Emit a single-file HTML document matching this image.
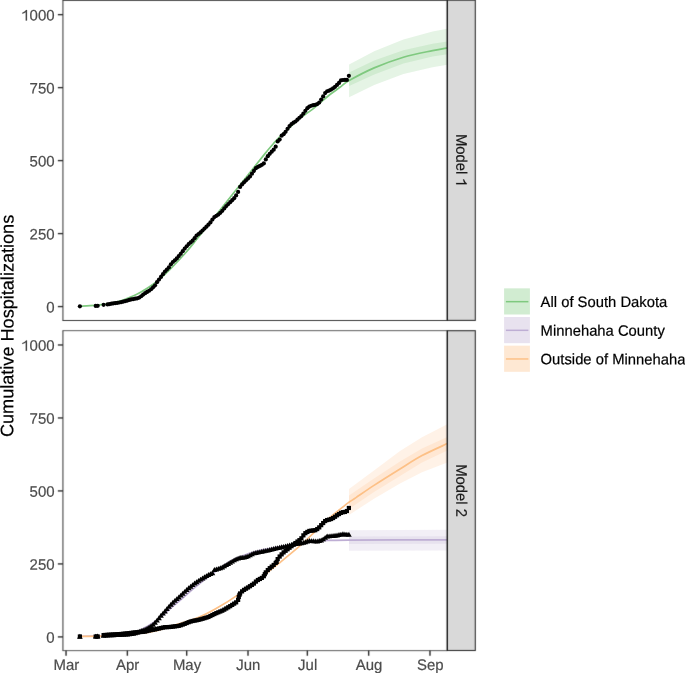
<!DOCTYPE html>
<html><head><meta charset="utf-8"><style>
html,body{margin:0;padding:0;background:#fff;}
body{width:685px;height:673px;overflow:hidden;}
svg{display:block;font-family:"Liberation Sans",sans-serif;will-change:transform;text-rendering:geometricPrecision;}
text{stroke:currentColor;stroke-width:0.2px;}
</style></head><body>
<svg width="685" height="673" viewBox="0 0 685 673">
<defs><filter id="bl" x="0" y="0" width="685" height="673" filterUnits="userSpaceOnUse" color-interpolation-filters="sRGB"><feConvolveMatrix order="3" kernelMatrix="0.00741 0.07126 0.00741 0.07126 0.68530 0.07126 0.00741 0.07126 0.00741" divisor="1" edgeMode="duplicate"/></filter><clipPath id="c1"><rect x="63.00" y="0.20" width="384.30" height="320.20"/></clipPath>
<clipPath id="c2"><rect x="63.00" y="330.70" width="384.30" height="319.80"/></clipPath></defs>
<rect width="685" height="673" fill="#fff"/>
<g clip-path="url(#c1)">
<path d="M349.10,64.40 L374.20,51.30 L403.40,39.60 L432.60,31.60 L447.30,28.80 L447.30,64.80 L432.60,67.30 L403.40,73.90 L374.20,84.90 L349.10,97.30 Z" fill="#7FC97F" fill-opacity="0.20"/><path d="M349.10,72.50 L374.20,60.50 L403.40,50.30 L432.60,43.80 L447.30,41.60 L447.30,54.30 L432.60,56.40 L403.40,63.50 L374.20,74.60 L349.10,86.00 Z" fill="#7FC97F" fill-opacity="0.20"/>
<path d="M80.00,306.30 C81.67,306.20 86.67,305.95 90.00,305.70 C93.33,305.45 96.67,305.17 100.00,304.80 C103.33,304.43 106.67,304.13 110.00,303.50 C113.33,302.87 116.67,302.05 120.00,301.00 C123.33,299.95 126.33,298.80 130.00,297.20 C133.67,295.60 137.83,293.77 142.00,291.40 C146.17,289.03 150.33,286.68 155.00,283.00 C159.67,279.32 165.00,274.22 170.00,269.30 C175.00,264.38 180.50,258.55 185.00,253.50 C189.50,248.45 189.50,248.33 197.00,239.00 C204.50,229.67 218.67,211.73 230.00,197.50 C241.33,183.27 257.50,162.87 265.00,153.60 C272.50,144.33 272.17,145.07 275.00,141.90 C277.83,138.73 279.50,137.03 282.00,134.60 C284.50,132.17 287.00,130.02 290.00,127.30 C293.00,124.58 296.27,121.30 300.00,118.30 C303.73,115.30 309.07,111.88 312.40,109.30 C315.73,106.72 317.07,105.27 320.00,102.80 C322.93,100.33 326.67,97.08 330.00,94.50 C333.33,91.92 336.82,89.62 340.00,87.30 C343.18,84.98 343.40,83.83 349.10,80.60 C354.80,77.37 365.15,71.80 374.20,67.90 C383.25,64.00 393.67,60.08 403.40,57.20 C413.13,54.32 425.28,52.15 432.60,50.60 C439.92,49.05 444.85,48.35 447.30,47.90" fill="none" stroke="#7FC97F" stroke-width="1.7"/>
<g fill="#000"><circle cx="79.89" cy="306.30" r="2.10"/><circle cx="95.71" cy="305.90" r="2.10"/><circle cx="97.69" cy="305.81" r="2.10"/><circle cx="103.62" cy="304.83" r="2.10"/><circle cx="107.58" cy="304.40" r="2.10"/><circle cx="109.55" cy="304.04" r="2.10"/><circle cx="111.53" cy="303.68" r="2.10"/><circle cx="113.51" cy="303.37" r="2.10"/><circle cx="115.49" cy="303.08" r="2.10"/><circle cx="117.47" cy="302.78" r="2.10"/><circle cx="119.44" cy="302.48" r="2.10"/><circle cx="121.42" cy="302.06" r="2.10"/><circle cx="123.40" cy="301.58" r="2.10"/><circle cx="125.38" cy="301.09" r="2.10"/><circle cx="127.36" cy="300.53" r="2.10"/><circle cx="129.33" cy="299.96" r="2.10"/><circle cx="131.31" cy="299.45" r="2.10"/><circle cx="133.29" cy="299.05" r="2.10"/><circle cx="135.27" cy="298.69" r="2.10"/><circle cx="137.25" cy="298.36" r="2.10"/><circle cx="139.22" cy="297.62" r="2.10"/><circle cx="141.20" cy="296.25" r="2.10"/><circle cx="143.18" cy="294.53" r="2.10"/><circle cx="145.16" cy="293.14" r="2.10"/><circle cx="147.14" cy="291.95" r="2.10"/><circle cx="149.11" cy="290.76" r="2.10"/><circle cx="151.09" cy="289.23" r="2.10"/><circle cx="153.07" cy="287.29" r="2.10"/><circle cx="155.05" cy="285.35" r="2.10"/><circle cx="157.02" cy="282.20" r="2.10"/><circle cx="159.00" cy="279.53" r="2.10"/><circle cx="160.98" cy="276.93" r="2.10"/><circle cx="162.96" cy="274.20" r="2.10"/><circle cx="164.94" cy="271.56" r="2.10"/><circle cx="166.91" cy="269.59" r="2.10"/><circle cx="168.89" cy="267.39" r="2.10"/><circle cx="170.87" cy="264.30" r="2.10"/><circle cx="172.85" cy="262.01" r="2.10"/><circle cx="174.83" cy="260.30" r="2.10"/><circle cx="176.80" cy="258.38" r="2.10"/><circle cx="178.78" cy="256.09" r="2.10"/><circle cx="180.76" cy="253.76" r="2.10"/><circle cx="182.74" cy="251.16" r="2.10"/><circle cx="184.72" cy="248.61" r="2.10"/><circle cx="186.69" cy="246.27" r="2.10"/><circle cx="188.67" cy="244.11" r="2.10"/><circle cx="190.65" cy="242.40" r="2.10"/><circle cx="192.63" cy="240.69" r="2.10"/><circle cx="194.61" cy="238.21" r="2.10"/><circle cx="196.58" cy="235.57" r="2.10"/><circle cx="198.56" cy="233.98" r="2.10"/><circle cx="200.54" cy="232.39" r="2.10"/><circle cx="202.52" cy="230.52" r="2.10"/><circle cx="204.50" cy="228.58" r="2.10"/><circle cx="206.47" cy="226.63" r="2.10"/><circle cx="208.45" cy="224.65" r="2.10"/><circle cx="210.43" cy="222.44" r="2.10"/><circle cx="212.41" cy="219.59" r="2.10"/><circle cx="214.38" cy="217.06" r="2.10"/><circle cx="216.36" cy="215.82" r="2.10"/><circle cx="218.34" cy="214.59" r="2.10"/><circle cx="220.32" cy="212.78" r="2.10"/><circle cx="222.30" cy="210.80" r="2.10"/><circle cx="224.27" cy="208.44" r="2.10"/><circle cx="226.25" cy="206.05" r="2.10"/><circle cx="228.23" cy="204.11" r="2.10"/><circle cx="230.21" cy="202.18" r="2.10"/><circle cx="232.19" cy="200.18" r="2.10"/><circle cx="234.16" cy="198.16" r="2.10"/><circle cx="236.14" cy="195.39" r="2.10"/><circle cx="238.12" cy="191.94" r="2.10"/><circle cx="240.10" cy="186.97" r="2.10"/><circle cx="242.08" cy="184.46" r="2.10"/><circle cx="244.05" cy="182.35" r="2.10"/><circle cx="246.03" cy="180.37" r="2.10"/><circle cx="248.01" cy="178.39" r="2.10"/><circle cx="249.99" cy="176.41" r="2.10"/><circle cx="251.97" cy="173.64" r="2.10"/><circle cx="253.94" cy="170.87" r="2.10"/><circle cx="255.92" cy="168.21" r="2.10"/><circle cx="257.90" cy="166.92" r="2.10"/><circle cx="259.88" cy="165.96" r="2.10"/><circle cx="261.86" cy="164.82" r="2.10"/><circle cx="263.83" cy="163.43" r="2.10"/><circle cx="265.81" cy="159.42" r="2.10"/><circle cx="267.79" cy="156.20" r="2.10"/><circle cx="269.77" cy="153.87" r="2.10"/><circle cx="271.74" cy="151.66" r="2.10"/><circle cx="273.72" cy="149.68" r="2.10"/><circle cx="275.70" cy="146.67" r="2.10"/><circle cx="277.68" cy="141.43" r="2.10"/><circle cx="279.66" cy="139.54" r="2.10"/><circle cx="281.63" cy="135.63" r="2.10"/><circle cx="283.61" cy="134.18" r="2.10"/><circle cx="285.59" cy="131.82" r="2.10"/><circle cx="287.57" cy="128.81" r="2.10"/><circle cx="289.55" cy="126.07" r="2.10"/><circle cx="291.52" cy="124.08" r="2.10"/><circle cx="293.50" cy="122.64" r="2.10"/><circle cx="295.48" cy="121.49" r="2.10"/><circle cx="297.46" cy="119.64" r="2.10"/><circle cx="299.44" cy="117.75" r="2.10"/><circle cx="301.41" cy="116.09" r="2.10"/><circle cx="303.39" cy="113.62" r="2.10"/><circle cx="305.37" cy="110.83" r="2.10"/><circle cx="307.35" cy="108.18" r="2.10"/><circle cx="309.33" cy="106.58" r="2.10"/><circle cx="311.30" cy="105.73" r="2.10"/><circle cx="313.28" cy="105.15" r="2.10"/><circle cx="315.26" cy="104.82" r="2.10"/><circle cx="317.24" cy="104.11" r="2.10"/><circle cx="319.22" cy="102.58" r="2.10"/><circle cx="321.19" cy="99.56" r="2.10"/><circle cx="323.17" cy="96.45" r="2.10"/><circle cx="325.15" cy="93.10" r="2.10"/><circle cx="327.13" cy="91.24" r="2.10"/><circle cx="329.10" cy="90.60" r="2.10"/><circle cx="331.08" cy="89.58" r="2.10"/><circle cx="333.06" cy="88.35" r="2.10"/><circle cx="335.04" cy="86.86" r="2.10"/><circle cx="337.02" cy="84.88" r="2.10"/><circle cx="338.99" cy="82.91" r="2.10"/><circle cx="340.97" cy="80.46" r="2.10"/><circle cx="342.95" cy="80.00" r="2.10"/><circle cx="344.93" cy="79.90" r="2.10"/><circle cx="346.91" cy="79.89" r="2.10"/><circle cx="348.88" cy="75.83" r="2.10"/></g>
</g>
<g clip-path="url(#c2)">
<path d="M349.00,530.20 L447.30,529.80 L447.30,550.60 L349.00,550.80 Z" fill="#BEAED4" fill-opacity="0.20"/><path d="M349.00,536.40 L447.30,536.30 L447.30,543.80 L349.00,544.00 Z" fill="#BEAED4" fill-opacity="0.20"/>
<path d="M349.00,489.00 L374.00,470.50 L400.00,451.00 L422.00,437.20 L447.30,424.30 L447.30,462.50 L422.00,472.30 L400.00,483.50 L374.00,498.70 L349.00,515.00 Z" fill="#FDC086" fill-opacity="0.20"/><path d="M349.00,495.50 L374.00,478.50 L400.00,461.50 L422.00,448.50 L447.30,437.00 L447.30,450.50 L422.00,462.50 L400.00,476.00 L374.00,492.00 L349.00,509.00 Z" fill="#FDC086" fill-opacity="0.20"/>
<path d="M80.00,636.30 C83.33,636.23 93.33,636.23 100.00,635.90 C106.67,635.57 114.17,634.98 120.00,634.30 C125.83,633.62 131.67,632.47 135.00,631.80 C138.33,631.13 138.33,631.00 140.00,630.30 C141.67,629.60 143.33,628.55 145.00,627.60 C146.67,626.65 148.33,625.63 150.00,624.60 C151.67,623.57 153.33,622.57 155.00,621.40 C156.67,620.23 158.33,618.90 160.00,617.60 C161.67,616.30 163.00,615.37 165.00,613.60 C167.00,611.83 169.20,609.45 172.00,607.00 C174.80,604.55 178.52,601.72 181.80,598.90 C185.08,596.08 188.30,592.98 191.70,590.10 C195.10,587.22 198.32,584.65 202.20,581.60 C206.08,578.55 210.25,575.23 215.00,571.80 C219.75,568.37 225.12,564.03 230.70,561.00 C236.28,557.97 243.62,555.38 248.50,553.60 C253.38,551.82 255.58,551.32 260.00,550.30 C264.42,549.28 270.00,548.38 275.00,547.50 C280.00,546.62 284.17,545.88 290.00,545.00 C295.83,544.12 304.17,542.93 310.00,542.20 C315.83,541.47 318.50,540.95 325.00,540.60 C331.50,540.25 328.62,540.22 349.00,540.10 C369.38,539.98 430.92,539.93 447.30,539.90" fill="none" stroke="#BEAED4" stroke-width="1.7"/>
<path d="M80.00,636.30 C83.33,636.27 93.33,636.25 100.00,636.10 C106.67,635.95 113.00,635.92 120.00,635.40 C127.00,634.88 136.17,633.73 142.00,633.00 C147.83,632.27 149.50,632.33 155.00,631.00 C160.50,629.67 167.80,627.25 175.00,625.00 C182.20,622.75 191.42,620.20 198.20,617.50 C204.98,614.80 209.13,612.53 215.70,608.80 C222.27,605.07 229.80,600.50 237.60,595.10 C245.40,589.70 255.68,581.63 262.50,576.40 C269.32,571.17 272.42,568.65 278.50,563.70 C284.58,558.75 292.92,552.05 299.00,546.70 C305.08,541.35 309.63,536.63 315.00,531.60 C320.37,526.57 326.27,520.83 331.20,516.50 C336.13,512.17 341.63,507.97 344.60,505.60 C347.57,503.23 347.10,503.63 349.00,502.30 C350.90,500.97 351.83,500.42 356.00,497.60 C360.17,494.78 366.67,490.17 374.00,485.40 C381.33,480.63 392.00,473.97 400.00,469.00 C408.00,464.03 414.12,459.83 422.00,455.60 C429.88,451.37 443.08,445.60 447.30,443.60" fill="none" stroke="#FDC086" stroke-width="1.7"/>
<g fill="#000"><path d="M79.89,633.75L82.74,638.65L77.04,638.65Z"/><path d="M95.71,633.65L98.56,638.55L92.86,638.55Z"/><path d="M97.69,633.56L100.54,638.46L94.84,638.46Z"/><path d="M103.62,632.75L106.47,637.65L100.77,637.65Z"/><path d="M105.60,632.66L108.45,637.56L102.75,637.56Z"/><path d="M107.58,632.56L110.43,637.46L104.73,637.46Z"/><path d="M109.55,632.47L112.40,637.37L106.70,637.37Z"/><path d="M111.53,632.37L114.38,637.27L108.68,637.27Z"/><path d="M113.51,632.27L116.36,637.17L110.66,637.17Z"/><path d="M115.49,632.18L118.34,637.08L112.64,637.08Z"/><path d="M117.47,632.08L120.32,636.98L114.62,636.98Z"/><path d="M119.44,631.98L122.29,636.88L116.59,636.88Z"/><path d="M121.42,631.86L124.27,636.76L118.57,636.76Z"/><path d="M123.40,631.74L126.25,636.64L120.55,636.64Z"/><path d="M125.38,631.61L128.23,636.51L122.53,636.51Z"/><path d="M127.36,631.49L130.21,636.39L124.51,636.39Z"/><path d="M129.33,631.28L132.18,636.18L126.48,636.18Z"/><path d="M131.31,631.02L134.16,635.92L128.46,635.92Z"/><path d="M133.29,630.77L136.14,635.67L130.44,635.67Z"/><path d="M135.27,630.44L138.12,635.34L132.42,635.34Z"/><path d="M137.25,629.61L140.10,634.51L134.40,634.51Z"/><path d="M139.22,628.78L142.07,633.68L136.37,633.68Z"/><path d="M141.20,628.07L144.05,632.97L138.35,632.97Z"/><path d="M143.18,627.43L146.03,632.33L140.33,632.33Z"/><path d="M145.16,626.76L148.01,631.66L142.31,631.66Z"/><path d="M147.14,625.65L149.99,630.55L144.29,630.55Z"/><path d="M149.11,624.55L151.96,629.45L146.26,629.45Z"/><path d="M151.09,623.25L153.94,628.15L148.24,628.15Z"/><path d="M153.07,621.79L155.92,626.69L150.22,626.69Z"/><path d="M155.05,619.78L157.90,624.68L152.20,624.68Z"/><path d="M157.02,617.65L159.87,622.55L154.17,622.55Z"/><path d="M159.00,615.25L161.85,620.15L156.15,620.15Z"/><path d="M160.98,612.77L163.83,617.67L158.13,617.67Z"/><path d="M162.96,610.64L165.81,615.54L160.11,615.54Z"/><path d="M164.94,608.51L167.79,613.41L162.09,613.41Z"/><path d="M166.91,606.21L169.76,611.11L164.06,611.11Z"/><path d="M168.89,603.93L171.74,608.83L166.04,608.83Z"/><path d="M170.87,601.80L173.72,606.70L168.02,606.70Z"/><path d="M172.85,599.75L175.70,604.65L170.00,604.65Z"/><path d="M174.83,597.93L177.68,602.83L171.98,602.83Z"/><path d="M176.80,596.18L179.65,601.08L173.95,601.08Z"/><path d="M178.78,594.52L181.63,599.42L175.93,599.42Z"/><path d="M180.76,592.72L183.61,597.62L177.91,597.62Z"/><path d="M182.74,590.79L185.59,595.69L179.89,595.69Z"/><path d="M184.72,588.90L187.57,593.80L181.87,593.80Z"/><path d="M186.69,587.03L189.54,591.93L183.84,591.93Z"/><path d="M188.67,585.35L191.52,590.25L185.82,590.25Z"/><path d="M190.65,583.74L193.50,588.64L187.80,588.64Z"/><path d="M192.63,582.15L195.48,587.05L189.78,587.05Z"/><path d="M194.61,580.57L197.46,585.47L191.76,585.47Z"/><path d="M196.58,579.23L199.43,584.13L193.73,584.13Z"/><path d="M198.56,577.95L201.41,582.85L195.71,582.85Z"/><path d="M200.54,576.71L203.39,581.61L197.69,581.61Z"/><path d="M202.52,575.50L205.37,580.40L199.67,580.40Z"/><path d="M204.50,574.31L207.35,579.21L201.65,579.21Z"/><path d="M206.47,573.16L209.32,578.06L203.62,578.06Z"/><path d="M208.45,572.03L211.30,576.93L205.60,576.93Z"/><path d="M210.43,571.14L213.28,576.04L207.58,576.04Z"/><path d="M212.41,570.24L215.26,575.14L209.56,575.14Z"/><path d="M214.38,567.10L217.23,572.00L211.53,572.00Z"/><path d="M216.36,566.52L219.21,571.42L213.51,571.42Z"/><path d="M218.34,565.92L221.19,570.82L215.49,570.82Z"/><path d="M220.32,565.29L223.17,570.19L217.47,570.19Z"/><path d="M222.30,564.51L225.15,569.41L219.45,569.41Z"/><path d="M224.27,563.36L227.12,568.26L221.42,568.26Z"/><path d="M226.25,562.22L229.10,567.12L223.40,567.12Z"/><path d="M228.23,561.03L231.08,565.93L225.38,565.93Z"/><path d="M230.21,559.85L233.06,564.75L227.36,564.75Z"/><path d="M232.19,558.64L235.04,563.54L229.34,563.54Z"/><path d="M234.16,557.42L237.01,562.32L231.31,562.32Z"/><path d="M236.14,556.43L238.99,561.33L233.29,561.33Z"/><path d="M238.12,555.64L240.97,560.54L235.27,560.54Z"/><path d="M240.10,555.00L242.95,559.90L237.25,559.90Z"/><path d="M242.08,554.82L244.93,559.72L239.23,559.72Z"/><path d="M244.05,554.63L246.90,559.53L241.20,559.53Z"/><path d="M246.03,554.02L248.88,558.92L243.18,558.92Z"/><path d="M248.01,553.40L250.86,558.30L245.16,558.30Z"/><path d="M249.99,552.39L252.84,557.29L247.14,557.29Z"/><path d="M251.97,551.25L254.82,556.15L249.12,556.15Z"/><path d="M253.94,550.44L256.79,555.34L251.09,555.34Z"/><path d="M255.92,550.01L258.77,554.91L253.07,554.91Z"/><path d="M257.90,549.57L260.75,554.47L255.05,554.47Z"/><path d="M259.88,549.15L262.73,554.05L257.03,554.05Z"/><path d="M261.86,548.75L264.71,553.65L259.01,553.65Z"/><path d="M263.83,548.35L266.68,553.25L260.98,553.25Z"/><path d="M265.81,547.95L268.66,552.85L262.96,552.85Z"/><path d="M267.79,547.55L270.64,552.45L264.94,552.45Z"/><path d="M269.77,547.06L272.62,551.96L266.92,551.96Z"/><path d="M271.74,546.57L274.59,551.47L268.89,551.47Z"/><path d="M273.72,546.09L276.57,550.99L270.87,550.99Z"/><path d="M275.70,545.60L278.55,550.50L272.85,550.50Z"/><path d="M277.68,545.15L280.53,550.05L274.83,550.05Z"/><path d="M279.66,544.76L282.51,549.66L276.81,549.66Z"/><path d="M281.63,544.36L284.48,549.26L278.78,549.26Z"/><path d="M283.61,543.97L286.46,548.87L280.76,548.87Z"/><path d="M285.59,543.57L288.44,548.47L282.74,548.47Z"/><path d="M287.57,543.09L290.42,547.99L284.72,547.99Z"/><path d="M289.55,542.60L292.40,547.50L286.70,547.50Z"/><path d="M291.52,542.11L294.37,547.01L288.67,547.01Z"/><path d="M293.50,541.62L296.35,546.52L290.65,546.52Z"/><path d="M295.48,541.21L298.33,546.11L292.63,546.11Z"/><path d="M297.46,540.90L300.31,545.80L294.61,545.80Z"/><path d="M299.44,540.59L302.29,545.49L296.59,545.49Z"/><path d="M301.41,540.28L304.26,545.18L298.56,545.18Z"/><path d="M303.39,539.97L306.24,544.87L300.54,544.87Z"/><path d="M305.37,539.29L308.22,544.19L302.52,544.19Z"/><path d="M307.35,538.60L310.20,543.50L304.50,543.50Z"/><path d="M309.33,538.07L312.18,542.97L306.48,542.97Z"/><path d="M311.30,538.19L314.15,543.09L308.45,543.09Z"/><path d="M313.28,538.30L316.13,543.20L310.43,543.20Z"/><path d="M315.26,538.41L318.11,543.31L312.41,543.31Z"/><path d="M317.24,538.52L320.09,543.42L314.39,543.42Z"/><path d="M319.22,538.11L322.07,543.01L316.37,543.01Z"/><path d="M321.19,537.49L324.04,542.39L318.34,542.39Z"/><path d="M323.17,536.46L326.02,541.36L320.32,541.36Z"/><path d="M325.15,534.88L328.00,539.78L322.30,539.78Z"/><path d="M327.13,533.61L329.98,538.51L324.28,538.51Z"/><path d="M329.10,533.41L331.95,538.31L326.25,538.31Z"/><path d="M331.08,533.21L333.93,538.11L328.23,538.11Z"/><path d="M333.06,533.01L335.91,537.91L330.21,537.91Z"/><path d="M335.04,532.82L337.89,537.72L332.19,537.72Z"/><path d="M337.02,532.49L339.87,537.39L334.17,537.39Z"/><path d="M338.99,532.10L341.84,537.00L336.14,537.00Z"/><path d="M340.97,531.71L343.82,536.61L338.12,536.61Z"/><path d="M342.95,531.36L345.80,536.26L340.10,536.26Z"/><path d="M344.93,531.51L347.78,536.41L342.08,536.41Z"/><path d="M346.91,531.66L349.76,536.56L344.06,536.56Z"/><path d="M348.88,531.80L351.73,536.70L346.03,536.70Z"/><rect x="77.79" y="634.40" width="4.20" height="4.20"/><rect x="93.61" y="634.40" width="4.20" height="4.20"/><rect x="95.59" y="634.40" width="4.20" height="4.20"/><rect x="101.52" y="632.98" width="4.20" height="4.20"/><rect x="103.50" y="632.86" width="4.20" height="4.20"/><rect x="105.48" y="632.74" width="4.20" height="4.20"/><rect x="107.45" y="632.63" width="4.20" height="4.20"/><rect x="109.43" y="632.51" width="4.20" height="4.20"/><rect x="111.41" y="632.39" width="4.20" height="4.20"/><rect x="113.39" y="632.27" width="4.20" height="4.20"/><rect x="115.37" y="632.15" width="4.20" height="4.20"/><rect x="117.34" y="632.03" width="4.20" height="4.20"/><rect x="119.32" y="631.86" width="4.20" height="4.20"/><rect x="121.30" y="631.66" width="4.20" height="4.20"/><rect x="123.28" y="631.46" width="4.20" height="4.20"/><rect x="125.26" y="631.26" width="4.20" height="4.20"/><rect x="127.23" y="631.03" width="4.20" height="4.20"/><rect x="129.21" y="630.77" width="4.20" height="4.20"/><rect x="131.19" y="630.52" width="4.20" height="4.20"/><rect x="133.17" y="630.28" width="4.20" height="4.20"/><rect x="135.15" y="630.17" width="4.20" height="4.20"/><rect x="137.12" y="630.05" width="4.20" height="4.20"/><rect x="139.10" y="629.88" width="4.20" height="4.20"/><rect x="141.08" y="629.68" width="4.20" height="4.20"/><rect x="143.06" y="629.46" width="4.20" height="4.20"/><rect x="145.04" y="628.94" width="4.20" height="4.20"/><rect x="147.01" y="628.43" width="4.20" height="4.20"/><rect x="148.99" y="628.00" width="4.20" height="4.20"/><rect x="150.97" y="627.65" width="4.20" height="4.20"/><rect x="152.95" y="627.29" width="4.20" height="4.20"/><rect x="154.92" y="626.84" width="4.20" height="4.20"/><rect x="156.90" y="626.38" width="4.20" height="4.20"/><rect x="158.88" y="625.93" width="4.20" height="4.20"/><rect x="160.86" y="625.48" width="4.20" height="4.20"/><rect x="162.84" y="625.09" width="4.20" height="4.20"/><rect x="164.81" y="625.01" width="4.20" height="4.20"/><rect x="166.79" y="624.94" width="4.20" height="4.20"/><rect x="168.77" y="624.79" width="4.20" height="4.20"/><rect x="170.75" y="624.53" width="4.20" height="4.20"/><rect x="172.73" y="624.27" width="4.20" height="4.20"/><rect x="174.70" y="624.01" width="4.20" height="4.20"/><rect x="176.68" y="623.75" width="4.20" height="4.20"/><rect x="178.66" y="623.15" width="4.20" height="4.20"/><rect x="180.64" y="622.46" width="4.20" height="4.20"/><rect x="182.62" y="621.75" width="4.20" height="4.20"/><rect x="184.59" y="620.93" width="4.20" height="4.20"/><rect x="186.57" y="620.11" width="4.20" height="4.20"/><rect x="188.55" y="619.41" width="4.20" height="4.20"/><rect x="190.53" y="618.90" width="4.20" height="4.20"/><rect x="192.51" y="618.48" width="4.20" height="4.20"/><rect x="194.48" y="618.18" width="4.20" height="4.20"/><rect x="196.46" y="617.73" width="4.20" height="4.20"/><rect x="198.44" y="617.24" width="4.20" height="4.20"/><rect x="200.42" y="616.67" width="4.20" height="4.20"/><rect x="202.40" y="616.08" width="4.20" height="4.20"/><rect x="204.37" y="615.48" width="4.20" height="4.20"/><rect x="206.35" y="614.87" width="4.20" height="4.20"/><rect x="208.33" y="613.90" width="4.20" height="4.20"/><rect x="210.31" y="612.92" width="4.20" height="4.20"/><rect x="212.28" y="611.95" width="4.20" height="4.20"/><rect x="214.26" y="611.03" width="4.20" height="4.20"/><rect x="216.24" y="610.21" width="4.20" height="4.20"/><rect x="218.22" y="609.40" width="4.20" height="4.20"/><rect x="220.20" y="608.59" width="4.20" height="4.20"/><rect x="222.17" y="607.55" width="4.20" height="4.20"/><rect x="224.15" y="606.38" width="4.20" height="4.20"/><rect x="226.13" y="605.22" width="4.20" height="4.20"/><rect x="228.11" y="604.05" width="4.20" height="4.20"/><rect x="230.09" y="602.80" width="4.20" height="4.20"/><rect x="232.06" y="601.54" width="4.20" height="4.20"/><rect x="234.04" y="600.25" width="4.20" height="4.20"/><rect x="236.02" y="597.80" width="4.20" height="4.20"/><rect x="236.68" y="594.80" width="4.20" height="4.20"/><rect x="237.34" y="592.76" width="4.20" height="4.20"/><rect x="238.00" y="591.36" width="4.20" height="4.20"/><rect x="239.98" y="589.28" width="4.20" height="4.20"/><rect x="241.95" y="587.77" width="4.20" height="4.20"/><rect x="243.93" y="586.58" width="4.20" height="4.20"/><rect x="245.91" y="585.39" width="4.20" height="4.20"/><rect x="247.89" y="584.12" width="4.20" height="4.20"/><rect x="249.87" y="582.81" width="4.20" height="4.20"/><rect x="251.84" y="581.46" width="4.20" height="4.20"/><rect x="253.82" y="579.48" width="4.20" height="4.20"/><rect x="255.80" y="577.92" width="4.20" height="4.20"/><rect x="257.78" y="576.87" width="4.20" height="4.20"/><rect x="259.76" y="575.82" width="4.20" height="4.20"/><rect x="261.73" y="574.11" width="4.20" height="4.20"/><rect x="262.72" y="572.09" width="4.20" height="4.20"/><rect x="263.71" y="570.26" width="4.20" height="4.20"/><rect x="265.69" y="567.96" width="4.20" height="4.20"/><rect x="267.67" y="566.07" width="4.20" height="4.20"/><rect x="269.64" y="564.53" width="4.20" height="4.20"/><rect x="271.62" y="562.86" width="4.20" height="4.20"/><rect x="273.60" y="560.83" width="4.20" height="4.20"/><rect x="274.59" y="559.81" width="4.20" height="4.20"/><rect x="275.58" y="557.00" width="4.20" height="4.20"/><rect x="277.56" y="554.43" width="4.20" height="4.20"/><rect x="279.53" y="552.27" width="4.20" height="4.20"/><rect x="281.51" y="550.29" width="4.20" height="4.20"/><rect x="283.49" y="548.70" width="4.20" height="4.20"/><rect x="285.47" y="547.17" width="4.20" height="4.20"/><rect x="287.45" y="545.63" width="4.20" height="4.20"/><rect x="289.42" y="544.09" width="4.20" height="4.20"/><rect x="291.40" y="542.52" width="4.20" height="4.20"/><rect x="293.38" y="540.94" width="4.20" height="4.20"/><rect x="295.36" y="539.45" width="4.20" height="4.20"/><rect x="297.34" y="538.06" width="4.20" height="4.20"/><rect x="299.31" y="536.19" width="4.20" height="4.20"/><rect x="301.29" y="533.25" width="4.20" height="4.20"/><rect x="303.27" y="531.07" width="4.20" height="4.20"/><rect x="305.25" y="529.85" width="4.20" height="4.20"/><rect x="307.23" y="528.85" width="4.20" height="4.20"/><rect x="309.20" y="528.60" width="4.20" height="4.20"/><rect x="311.18" y="528.34" width="4.20" height="4.20"/><rect x="313.16" y="528.09" width="4.20" height="4.20"/><rect x="315.14" y="526.96" width="4.20" height="4.20"/><rect x="317.12" y="525.28" width="4.20" height="4.20"/><rect x="319.09" y="523.05" width="4.20" height="4.20"/><rect x="321.07" y="520.93" width="4.20" height="4.20"/><rect x="323.05" y="518.95" width="4.20" height="4.20"/><rect x="325.03" y="517.95" width="4.20" height="4.20"/><rect x="327.00" y="517.54" width="4.20" height="4.20"/><rect x="328.98" y="516.91" width="4.20" height="4.20"/><rect x="330.96" y="515.92" width="4.20" height="4.20"/><rect x="332.94" y="514.65" width="4.20" height="4.20"/><rect x="334.92" y="513.18" width="4.20" height="4.20"/><rect x="336.89" y="511.94" width="4.20" height="4.20"/><rect x="338.87" y="510.76" width="4.20" height="4.20"/><rect x="340.85" y="510.08" width="4.20" height="4.20"/><rect x="342.83" y="509.86" width="4.20" height="4.20"/><rect x="344.81" y="508.92" width="4.20" height="4.20"/><rect x="346.78" y="505.88" width="4.20" height="4.20"/></g>
</g>
<g filter="url(#bl)"><rect x="447.30" y="0.20" width="28.00" height="320.20" fill="#D9D9D9" stroke="#333" stroke-width="1.1"/><rect x="447.30" y="330.70" width="28.00" height="319.80" fill="#D9D9D9" stroke="#333" stroke-width="1.1"/><line x1="62.50" x2="447.30" y1="0.45" y2="0.45" stroke="#333" stroke-width="0.90"/><line x1="62.50" x2="447.30" y1="320.50" y2="320.50" stroke="#333" stroke-width="0.95"/><line x1="62.95" x2="62.95" y1="0.45" y2="320.50" stroke="#333" stroke-width="1.00"/><line x1="447.35" x2="447.35" y1="0.45" y2="320.50" stroke="#1a1a1a" stroke-width="1.3"/><line x1="62.50" x2="447.30" y1="330.68" y2="330.68" stroke="#333" stroke-width="0.80"/><line x1="62.50" x2="447.30" y1="650.65" y2="650.65" stroke="#333" stroke-width="0.80"/><line x1="62.95" x2="62.95" y1="330.68" y2="650.65" stroke="#333" stroke-width="1.00"/><line x1="447.35" x2="447.35" y1="330.68" y2="650.65" stroke="#1a1a1a" stroke-width="1.3"/><line x1="57.85" x2="63.00" y1="14.65" y2="14.65" stroke="#333" stroke-width="1.4"/><line x1="57.85" x2="63.00" y1="87.63" y2="87.63" stroke="#333" stroke-width="1.4"/><line x1="57.85" x2="63.00" y1="160.60" y2="160.60" stroke="#333" stroke-width="1.4"/><line x1="57.85" x2="63.00" y1="233.60" y2="233.60" stroke="#333" stroke-width="1.4"/><line x1="57.85" x2="63.00" y1="306.58" y2="306.58" stroke="#333" stroke-width="1.4"/><line x1="57.85" x2="63.00" y1="344.97" y2="344.97" stroke="#333" stroke-width="1.4"/><line x1="57.85" x2="63.00" y1="417.95" y2="417.95" stroke="#333" stroke-width="1.4"/><line x1="57.85" x2="63.00" y1="490.92" y2="490.92" stroke="#333" stroke-width="1.4"/><line x1="57.85" x2="63.00" y1="563.92" y2="563.92" stroke="#333" stroke-width="1.4"/><line x1="57.85" x2="63.00" y1="636.90" y2="636.90" stroke="#333" stroke-width="1.4"/><line x1="66.04" x2="66.04" y1="650.50" y2="655.75" stroke="#333" stroke-width="1.45"/><line x1="127.36" x2="127.36" y1="650.50" y2="655.75" stroke="#333" stroke-width="1.45"/><line x1="186.69" x2="186.69" y1="650.50" y2="655.75" stroke="#333" stroke-width="1.45"/><line x1="248.01" x2="248.01" y1="650.50" y2="655.75" stroke="#333" stroke-width="1.45"/><line x1="307.35" x2="307.35" y1="650.50" y2="655.75" stroke="#333" stroke-width="1.45"/><line x1="368.66" x2="368.66" y1="650.50" y2="655.75" stroke="#333" stroke-width="1.45"/><line x1="429.98" x2="429.98" y1="650.50" y2="655.75" stroke="#333" stroke-width="1.45"/></g><g transform="matrix(-0.000600,1.000000,-1.030000,0.000000,456.200,160.300)"><text x="-26.415" y="0" font-size="14.850" fill="#1A1A1A" color="#1A1A1A">Model </text><path d="M790,0L610,0L610,1110Q490,1000 145,915L145,1060Q510,1150 650,1409L790,1409Z" transform="translate(18.157,0.000) scale(0.00725,-0.00725)" fill="#1A1A1A" stroke="#1A1A1A" stroke-width="27.6" stroke-linejoin="round"/></g><g transform="matrix(-0.000600,1.000000,-1.030000,0.000000,456.200,490.600)"><text x="-26.415" y="0" font-size="14.850" fill="#1A1A1A" color="#1A1A1A">Model </text><text x="18.157" y="0" font-size="14.850" fill="#1A1A1A" color="#1A1A1A">2</text></g>
<g transform="matrix(1.000000,0.000600,-0.000000,1.012000,54.620,20.510)"><path d="M790,0L610,0L610,1110Q490,1000 145,915L145,1060Q510,1150 650,1409L790,1409Z" transform="translate(-33.369,0.000) scale(0.00732,-0.00732)" fill="#4D4D4D" stroke="#4D4D4D" stroke-width="27.3" stroke-linejoin="round"/><text x="-25.027" y="0" font-size="15.000" fill="#4D4D4D" color="#4D4D4D">000</text></g>
<text x="0" y="0" transform="matrix(1.000000,0.000600,-0.000000,1.012000,54.620,93.490)" font-size="15.000" fill="#4D4D4D" color="#4D4D4D" text-anchor="end">750</text>
<text x="0" y="0" transform="matrix(1.000000,0.000600,-0.000000,1.012000,54.620,166.460)" font-size="15.000" fill="#4D4D4D" color="#4D4D4D" text-anchor="end">500</text>
<text x="0" y="0" transform="matrix(1.000000,0.000600,-0.000000,1.012000,54.620,239.460)" font-size="15.000" fill="#4D4D4D" color="#4D4D4D" text-anchor="end">250</text>
<text x="0" y="0" transform="matrix(1.000000,0.000600,-0.000000,1.012000,54.620,312.440)" font-size="15.000" fill="#4D4D4D" color="#4D4D4D" text-anchor="end">0</text>
<g transform="matrix(1.000000,0.000600,-0.000000,1.012000,54.620,350.830)"><path d="M790,0L610,0L610,1110Q490,1000 145,915L145,1060Q510,1150 650,1409L790,1409Z" transform="translate(-33.369,0.000) scale(0.00732,-0.00732)" fill="#4D4D4D" stroke="#4D4D4D" stroke-width="27.3" stroke-linejoin="round"/><text x="-25.027" y="0" font-size="15.000" fill="#4D4D4D" color="#4D4D4D">000</text></g>
<text x="0" y="0" transform="matrix(1.000000,0.000600,-0.000000,1.012000,54.620,423.810)" font-size="15.000" fill="#4D4D4D" color="#4D4D4D" text-anchor="end">750</text>
<text x="0" y="0" transform="matrix(1.000000,0.000600,-0.000000,1.012000,54.620,496.780)" font-size="15.000" fill="#4D4D4D" color="#4D4D4D" text-anchor="end">500</text>
<text x="0" y="0" transform="matrix(1.000000,0.000600,-0.000000,1.012000,54.620,569.780)" font-size="15.000" fill="#4D4D4D" color="#4D4D4D" text-anchor="end">250</text>
<text x="0" y="0" transform="matrix(1.000000,0.000600,-0.000000,1.012000,54.620,642.760)" font-size="15.000" fill="#4D4D4D" color="#4D4D4D" text-anchor="end">0</text>
<text x="0" y="0" transform="matrix(1.000000,0.000600,-0.000000,1.020000,66.340,669.900)" font-size="14.950" fill="#4D4D4D" color="#4D4D4D" text-anchor="middle">Mar</text>
<text x="0" y="0" transform="matrix(1.000000,0.000600,-0.000000,1.020000,127.656,669.900)" font-size="14.950" fill="#4D4D4D" color="#4D4D4D" text-anchor="middle">Apr</text>
<text x="0" y="0" transform="matrix(1.000000,0.000600,-0.000000,1.020000,186.994,669.900)" font-size="14.950" fill="#4D4D4D" color="#4D4D4D" text-anchor="middle">May</text>
<text x="0" y="0" transform="matrix(1.000000,0.000600,-0.000000,1.020000,248.310,669.900)" font-size="14.950" fill="#4D4D4D" color="#4D4D4D" text-anchor="middle">Jun</text>
<text x="0" y="0" transform="matrix(1.000000,0.000600,-0.000000,1.020000,307.647,669.900)" font-size="14.950" fill="#4D4D4D" color="#4D4D4D" text-anchor="middle">Jul</text>
<text x="0" y="0" transform="matrix(1.000000,0.000600,-0.000000,1.020000,368.963,669.900)" font-size="14.950" fill="#4D4D4D" color="#4D4D4D" text-anchor="middle">Aug</text>
<text x="0" y="0" transform="matrix(1.000000,0.000600,-0.000000,1.020000,430.279,669.900)" font-size="14.950" fill="#4D4D4D" color="#4D4D4D" text-anchor="middle">Sep</text>
<text x="0" y="0" transform="matrix(0.000600,-1.000000,1.000000,0.000000,13.400,325.900)" font-size="18.100" fill="#000" color="#000" text-anchor="middle">Cumulative Hospitalizations</text>
<rect x="504.1" y="288.35" width="25.8" height="26.15" fill="#7FC97F" fill-opacity="0.36"/>
<line x1="505.9" x2="528.4" y1="301.67" y2="301.67" stroke="#7FC97F" stroke-width="1.5"/>
<text x="0" y="0" transform="matrix(1.000000,0.000600,-0.000000,1.020000,540.600,307.025)" font-size="14.800" fill="#000" color="#000">All of South Dakota</text>
<rect x="504.1" y="317.00" width="25.8" height="26.15" fill="#BEAED4" fill-opacity="0.36"/>
<line x1="505.9" x2="528.4" y1="330.32" y2="330.32" stroke="#BEAED4" stroke-width="1.5"/>
<text x="0" y="0" transform="matrix(1.000000,0.000600,-0.000000,1.020000,540.600,335.675)" font-size="14.800" fill="#000" color="#000">Minnehaha County</text>
<rect x="504.1" y="345.65" width="25.8" height="26.15" fill="#FDC086" fill-opacity="0.36"/>
<line x1="505.9" x2="528.4" y1="358.97" y2="358.97" stroke="#FDC086" stroke-width="1.5"/>
<text x="0" y="0" transform="matrix(1.000000,0.000600,-0.000000,1.020000,540.600,364.325)" font-size="14.800" fill="#000" color="#000">Outside of Minnehaha</text>
</svg>
</body></html>
